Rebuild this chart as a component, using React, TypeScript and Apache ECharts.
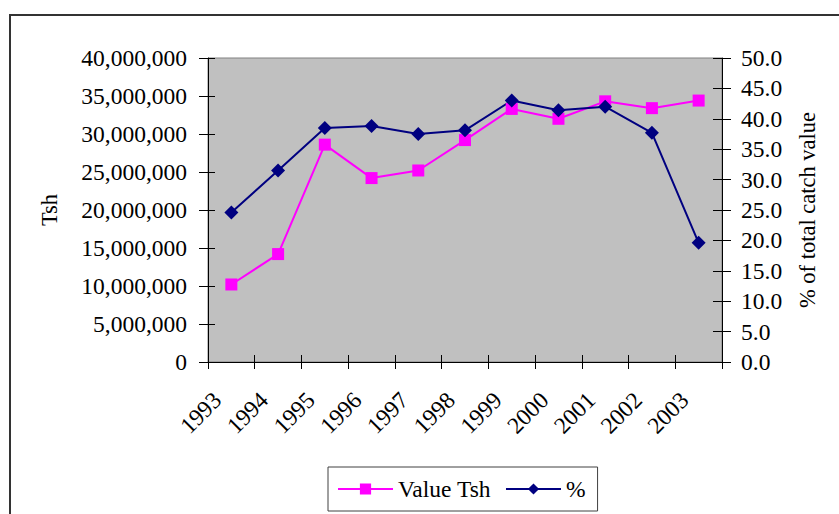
import React, { useEffect, useRef } from "react";
import * as echarts from "echarts";

const years = ["1993", "1994", "1995", "1996", "1997", "1998", "1999", "2000", "2001", "2002", "2003"];
const valueTsh = [10200000, 14200000, 28600000, 24200000, 25200000, 29200000, 33300000, 32000000, 34300000, 33400000, 34400000];
const percentOfTotal = [24.6, 31.5, 38.5, 38.8, 37.5, 38.1, 43.0, 41.4, 42.0, 37.7, 19.6];
const leftAxisRange = { min: 0, max: 40000000, interval: 5000000 };
const rightAxisRange = { min: 0, max: 50, interval: 5 };

const FONT = "'Liberation Serif', 'Times New Roman', serif";
const BLACK = "#000000";

export default function App() {
  const ref = useRef<HTMLDivElement>(null);

  useEffect(() => {
    document.body.style.margin = "0";
    if (!ref.current) return;
    const chart = echarts.init(ref.current, null, { renderer: "svg" });
    const lineStyle = { color: BLACK, width: 1 };
    const txt = { fontFamily: FONT, fontSize: 23.5, color: BLACK };
    chart.setOption({
      animation: false,
      backgroundColor: "#ffffff",
      textStyle: { fontFamily: FONT },
      graphic: [
        {
          type: "rect",
          silent: true,
          shape: { x: 10, y: 15, width: 900, height: 600 },
          style: { fill: "none", stroke: "#333333", lineWidth: 2 },
          z: 100,
        },
      ],
      grid: {
        left: 208,
        right: 117,
        top: 58,
        bottom: 152,
        show: true,
        backgroundColor: "#C0C0C0",
        borderColor: "#808080",
        borderWidth: 1,
        containLabel: false,
        outerBoundsMode: "none",
      },
      legend: {
        left: 328,
        top: 467,
        orient: "horizontal",
        backgroundColor: "#ffffff",
        borderColor: "#404040",
        borderWidth: 1,
        padding: [10, 12, 10, 9],
        itemGap: 14,
        itemWidth: 55,
        itemHeight: 14,
        textStyle: { ...txt },
        data: ["Value Tsh", "%"],
      },
      xAxis: [
        {
          type: "category",
          data: years,
          position: "bottom",
          boundaryGap: true,
          axisLine: { show: true, lineStyle },
          axisTick: { show: true, length: 7, lineStyle },
          axisLabel: {
            ...txt,
            interval: 0,
            rotate: 45,
            margin: 20,
            padding: [0, 20, 0, 0],
          },
          splitLine: { show: false },
        },
        {
          type: "category",
          data: years,
          position: "bottom",
          boundaryGap: true,
          axisLine: { show: false },
          axisTick: { show: true, inside: true, length: 7, lineStyle },
          axisLabel: { show: false },
          splitLine: { show: false },
        },
      ],
      yAxis: [
        {
          type: "value",
          position: "left",
          ...leftAxisRange,
          name: "Tsh",
          nameLocation: "middle",
          nameRotate: 90,
          nameGap: 147,
          nameTextStyle: { ...txt, fontSize: 22.5 },
          axisLine: { show: true, lineStyle },
          axisTick: { show: true, length: 9, lineStyle },
          axisLabel: {
            ...txt,
            margin: 21,
            formatter: (v: number) => v.toLocaleString("en-US"),
          },
          splitLine: { show: false },
        },
        {
          type: "value",
          position: "right",
          ...rightAxisRange,
          name: "% of total catch value",
          nameLocation: "middle",
          nameRotate: 90,
          nameGap: 74,
          nameTextStyle: { ...txt, fontSize: 22.5 },
          axisLine: { show: true, lineStyle },
          axisTick: { show: true, length: 9, lineStyle },
          axisLabel: {
            ...txt,
            margin: 19,
            formatter: (v: number) => v.toFixed(1),
          },
          splitLine: { show: false },
        },
        {
          type: "value",
          position: "left",
          ...leftAxisRange,
          axisLine: { show: false },
          axisTick: { show: true, inside: true, length: 7, lineStyle },
          axisLabel: { show: false },
          splitLine: { show: false },
        },
        {
          type: "value",
          position: "right",
          ...rightAxisRange,
          axisLine: { show: false },
          axisTick: { show: true, inside: true, length: 9, lineStyle },
          axisLabel: { show: false },
          splitLine: { show: false },
        },
      ],
      series: [
        {
          name: "Value Tsh",
          type: "line",
          xAxisIndex: 0,
          yAxisIndex: 0,
          data: valueTsh,
          symbol: "rect",
          symbolSize: 12,
          itemStyle: { color: "#FF00FF" },
          lineStyle: { color: "#FF00FF", width: 2 },
        },
        {
          name: "%",
          type: "line",
          xAxisIndex: 0,
          yAxisIndex: 1,
          data: percentOfTotal,
          symbol: "diamond",
          symbolSize: 14,
          itemStyle: { color: "#000080" },
          lineStyle: { color: "#000080", width: 2 },
        },
      ],
    });
    return () => chart.dispose();
  }, []);

  return (
    <div
      ref={ref}
      style={{ position: "absolute", left: 0, top: 0, width: 839, height: 514 }}
    />
  );
}
